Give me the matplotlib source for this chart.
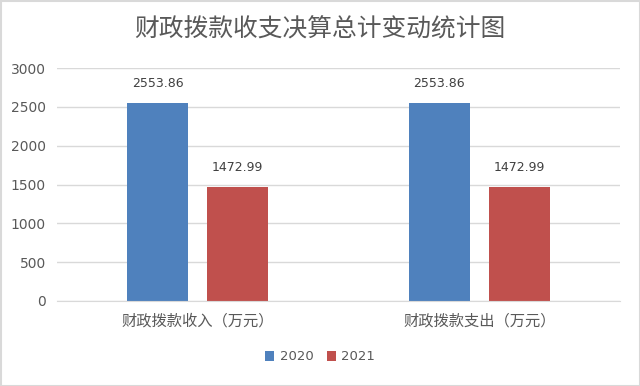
import matplotlib
matplotlib.use("Agg")
import matplotlib.pyplot as plt
from matplotlib.patches import Rectangle
import numpy as np

plt.rcParams['font.family'] = ['Noto Sans CJK SC', 'DejaVu Sans']

title = "财政拨款收支决算总计变动统计图"
categories = ["财政拨款收入（万元）", "财政拨款支出（万元）"]
series_names = ["2020", "2021"]
values_2020 = [2553.86, 2553.86]
values_2021 = [1472.99, 1472.99]
colors = ["#4F81BD", "#C0504D"]
yticks = [0, 500, 1000, 1500, 2000, 2500, 3000]

fig = plt.figure(figsize=(6.4, 3.86), dpi=100)
ax = fig.add_axes([57/640, 1-301/386, (620-57)/640, (301-68)/386])

x = np.arange(len(categories))
w = 0.217
off = 0.142
b1 = ax.bar(x - off, values_2020, w, color=colors[0], label=series_names[0])
b2 = ax.bar(x + off, values_2021, w, color=colors[1], label=series_names[1])
for bars, vals in ((b1, values_2020), (b2, values_2021)):
    for r, v in zip(bars, vals):
        ax.annotate(f"{v:.2f}", (r.get_x() + r.get_width()/2, v), xytext=(0, 14),
                    textcoords='offset points', ha='center', va='center',
                    fontsize=9, color='#404040', family=['DejaVu Sans'])

ax.set_xlim(-0.5, 1.5)
ax.set_ylim(0, 3000)
ax.set_yticks(yticks)
ax.set_yticklabels([str(t) for t in yticks], fontsize=10, color='#595959', family=['DejaVu Sans'])
ax.set_xticks(x)
ax.set_xticklabels(categories, fontsize=11, color='#595959')
ax.tick_params(axis='both', length=0)
ax.tick_params(axis='x', pad=8)
ax.tick_params(axis='y', pad=8)
ax.yaxis.grid(True, color='#D9D9D9', linewidth=1)
ax.set_axisbelow(True)
for s in ['top', 'right', 'left']:
    ax.spines[s].set_visible(False)
ax.spines['bottom'].set_color('#D9D9D9')

fig.text(0.5, 1-30/386, title, ha='center', va='center', fontsize=17.8, color='#595959')

leg = fig.legend(handles=[b1, b2], labels=series_names, loc='center', bbox_to_anchor=(0.5, 1-357/386),
                 ncol=2, frameon=False, handlelength=0.7, handleheight=0.7,
                 handletextpad=0.4, columnspacing=1.0, prop={'family': ['DejaVu Sans'], 'size': 9.5})
for t in leg.get_texts():
    t.set_color('#595959')

fig.patches.append(Rectangle((0.5/640, 0.5/386), 1-1/640, 1-1/386, transform=fig.transFigure,
                             fill=False, edgecolor='#D9D9D9', linewidth=1.5))

fig.savefig("out.png", dpi=100)
